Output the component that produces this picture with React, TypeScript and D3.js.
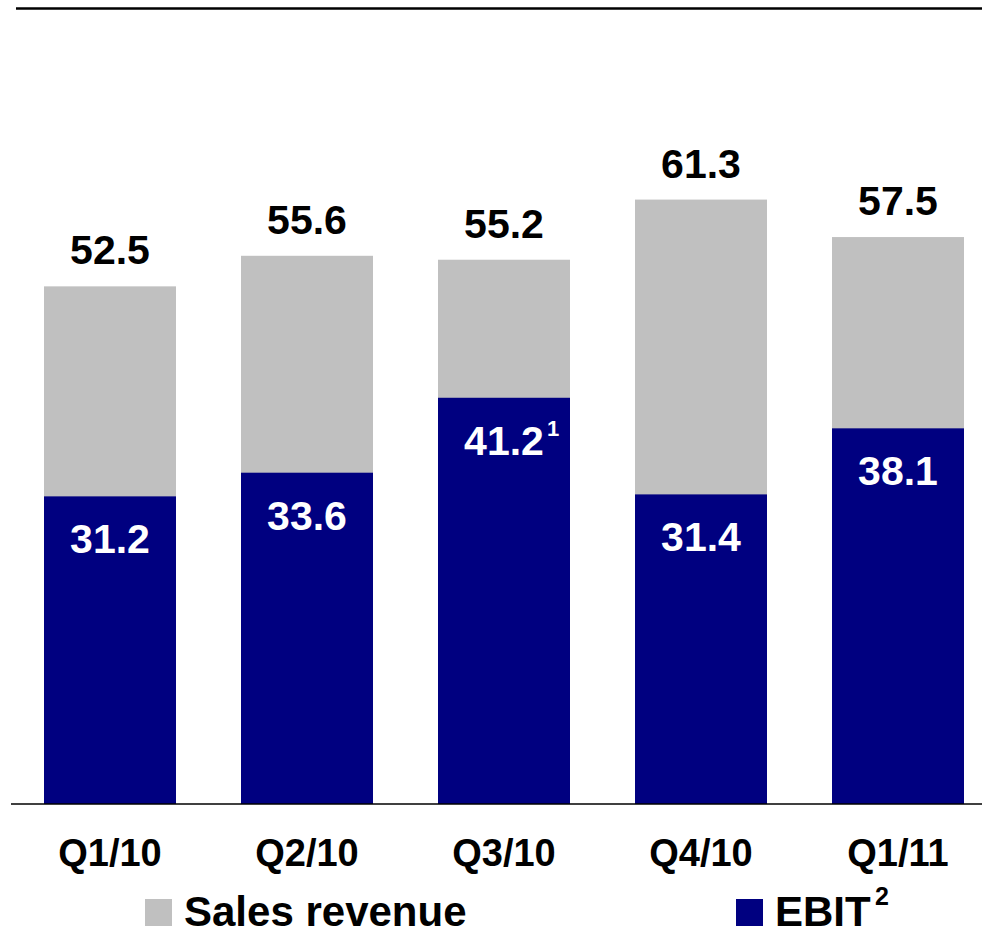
import React from "react";
import * as d3 from "d3";

const categories = ["Q1/10", "Q2/10", "Q3/10", "Q4/10", "Q1/11"];
const salesRevenue = [52.5, 55.6, 55.2, 61.3, 57.5];
const ebit = [31.2, 33.6, 41.2, 31.4, 38.1];
const ebitFootnotes = ["", "", "1", "", ""];
const legendLabels = ["Sales revenue", "EBIT"];

const W = 982;
const H = 928;
const GRAY = "#C0C0C0";
const NAVY = "#000080";
const FONT = "'Liberation Sans', Arial, sans-serif";

export default function App() {
  const x = d3.scaleBand<string>().domain(categories).range([44, 964]).paddingInner(0.33).paddingOuter(0);
  const y = d3.scaleLinear().domain([0, 70]).range([804, 804 - 70 * 9.86]);
  const bw = x.bandwidth();

  return (
    <svg width={W} height={H} style={{ position: "absolute", left: 0, top: 0, background: "#fff" }} fontFamily={FONT} fontWeight="bold">
      <rect x={0} y={0} width={W} height={H} fill="#fff" />
      <line x1={16} x2={W} y1={8.5} y2={8.5} stroke="#000" strokeWidth={2.5} />
      {categories.map((c, i) => {
        const x0 = x(c)!;
        const cx = x0 + bw / 2;
        return (
          <g key={c}>
            <rect x={x0} y={y(salesRevenue[i])} width={bw} height={y(0) - y(salesRevenue[i])} fill={GRAY} />
            <rect x={x0} y={y(ebit[i])} width={bw} height={y(0) - y(ebit[i])} fill={NAVY} />
            <text x={cx} y={y(salesRevenue[i]) - 22} textAnchor="middle" fontSize={41} fill="#000">
              {salesRevenue[i].toFixed(1)}
            </text>
            <text x={cx} y={y(ebit[i]) + 57} textAnchor="middle" fontSize={41} fill="#fff">
              {ebit[i].toFixed(1)}
            </text>
            {ebitFootnotes[i] && (
              <text x={cx + 43} y={y(ebit[i]) + 38} fontSize={22} fill="#fff">
                {ebitFootnotes[i]}
              </text>
            )}
            <text x={cx} y={866} textAnchor="middle" fontSize={38} fill="#000">
              {c}
            </text>
          </g>
        );
      })}
      <line x1={11} x2={W} y1={804} y2={804} stroke="#000" strokeWidth={1.5} />
      <rect x={145} y={899} width={27} height={27} fill={GRAY} />
      <text x={184} y={926} fontSize={42} fill="#000">{legendLabels[0]}</text>
      <rect x={736} y={899} width={27} height={27} fill={NAVY} />
      <text x={775} y={926} fontSize={42} fill="#000">{legendLabels[1]}</text>
      <text x={875} y={905} fontSize={25} fill="#000">2</text>
    </svg>
  );
}
